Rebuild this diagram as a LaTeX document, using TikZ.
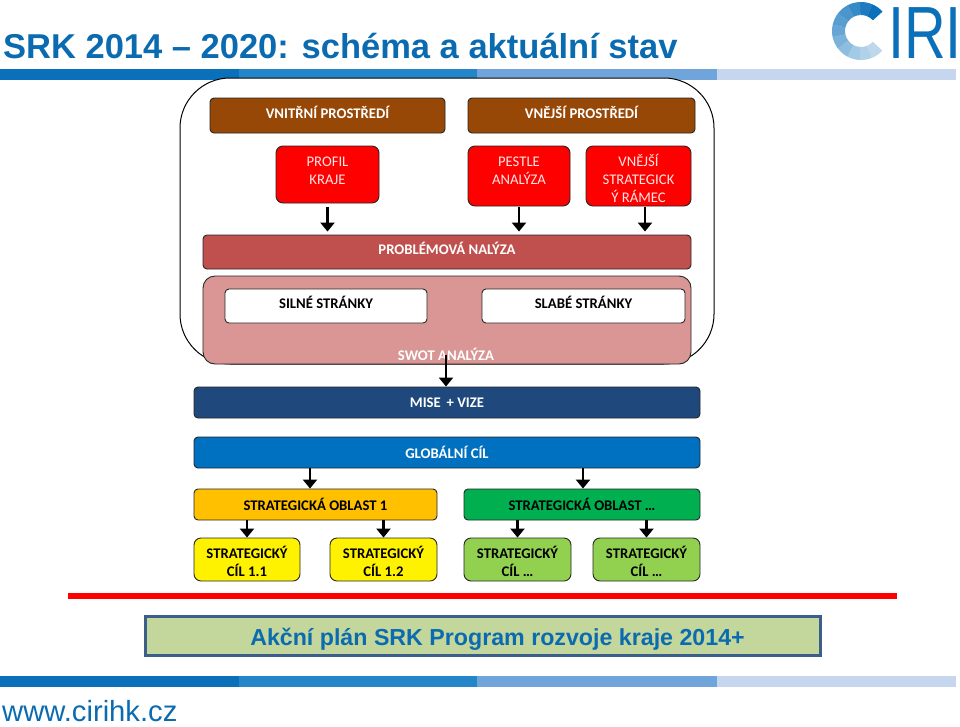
\documentclass[tikz,border=0pt]{standalone}
\usepackage{fontspec}
\setmainfont{Carlito}
\newfontfamily\headfont{Liberation Sans}
\usetikzlibrary{arrows.meta,positioning,calc}
\definecolor{BarOne}{HTML}{0A70BA}
\definecolor{BarTwo}{HTML}{2486C8}
\definecolor{BarThree}{HTML}{6FA5DA}
\definecolor{BarFour}{HTML}{C6D6EE}
\definecolor{TitleBlue}{HTML}{0B6BB0}
\definecolor{BrownBox}{HTML}{974706}
\definecolor{ProblemBox}{HTML}{C0504D}
\definecolor{SwotBox}{HTML}{D99694}
\definecolor{MiseBox}{HTML}{1F497D}
\definecolor{GlobalBox}{HTML}{0070C0}
\definecolor{AreaYellow}{HTML}{FFC000}
\definecolor{AreaGreen}{HTML}{00B050}
\definecolor{GoalGreen}{HTML}{92D050}
\definecolor{PlanBack}{HTML}{C3D69B}
\definecolor{PlanBorder}{HTML}{3B5F8A}
\tikzset{>={Triangle[width=14pt,length=9pt]},
 box/.style={draw=black!85,line width=.9pt,rounded corners=4pt,inner sep=0pt,align=center},
 lightbox/.style={box,text=white,font=\fontsize{14.7}{18}\selectfont\bfseries},
 darkbox/.style={box,text=black,font=\fontsize{14.7}{18}\selectfont\bfseries},
 redbox/.style={box,fill=red,rounded corners=7pt},
 goalbox/.style={box,rounded corners=7pt},
 redtext/.style={inner sep=0pt,align=center,text=white!90!red,font=\fontsize{14.7}{18}\selectfont},
 goaltext/.style={inner sep=0pt,align=center,text=black,font=\fontsize{14.7}{18}\selectfont\bfseries},
 flow/.style={->,line width=2.8pt,draw=black,shorten <=4pt,shorten >=3pt},
 flowtight/.style={->,line width=2.8pt,draw=black}}
% box given by its left, top, right, bottom edges in pixels
\newcommand{\boxat}[7][]{\node[#1,minimum width=#5pt-#3pt,minimum height=#6pt-#4pt] (#2) at ({(#3+#5)/2},{(#4+#6)/2}) {#7};}
\newcommand{\lowered}[2]{\raisebox{-#1pt}[0pt][0pt]{#2}}
\begin{document}
\begin{tikzpicture}[x=1pt,y=-1pt]
\useasboundingbox (0,0) rectangle (960,726);
\node[anchor=base west,inner sep=0pt,text=TitleBlue,font=\headfont\bfseries\fontsize{34.5}{34}\selectfont] (title) at (3,58) {SRK 2014 – 2020: schéma a aktuální stav};
% logo
\foreach \i/\shade in {0/100,1/92,2/82,3/74,4/68,5/62,6/54,7/46,8/38,9/32,10/27}
 \fill[BarOne!\shade!white] ({861+29*cos(42+\i*25)},{31-29*sin(42+\i*25)}) arc[start angle=-42-\i*25,end angle=-67.5-\i*25,radius=29]
  -- ({861+16*cos(67.5+\i*25)},{31-16*sin(67.5+\i*25)}) arc[start angle=-67.5-\i*25,end angle=-42-\i*25,radius=16] -- cycle;
\node[anchor=base west,inner sep=0pt,text=BarOne,xscale=.78,font=\headfont\fontsize{74}{74}\selectfont] (logotext) at (888,58) {IRI};
% bars
\foreach \y in {69,676} {
 \fill[BarOne] (0,\y) rectangle (239,\y+11);
 \fill[BarTwo] (239,\y) rectangle (477,\y+11);
 \fill[BarThree] (477,\y) rectangle (717,\y+11);
 \fill[BarFour] (717,\y) rectangle (956,\y+11);
}
% frame
\boxat[draw=black,line width=1pt,rounded corners=50pt,fill=white]{frame}{180}{78}{714}{364}{}
\boxat[lightbox,fill=BrownBox]{inner}{210}{98}{445}{133}{\lowered{3.2}{VNITŘNÍ PROSTŘEDÍ}}
\boxat[lightbox,fill=BrownBox]{outer}{468}{98}{695}{133}{\lowered{3.2}{VNĚJŠÍ PROSTŘEDÍ}}
\boxat[redbox]{profile}{276}{146}{379}{203}{}
\boxat[redbox]{pestle}{468}{146}{570}{206}{}
\boxat[redbox]{frameout}{586}{146}{691}{206}{}
\node[redtext,below=8pt of profile.north] (profiletext) {\strut PROFIL\\KRAJE};
\node[redtext,below=8pt of pestle.north] (pestletext) {\strut PESTLE\\ANALÝZA};
\node[redtext,below=8pt of frameout.north] (frameouttext) {\strut VNĚJŠÍ\\STRATEGICK\\Ý RÁMEC};
\boxat[lightbox,fill=ProblemBox]{problem}{203}{235}{691}{269}{\lowered{2.7}{PROBLÉMOVÁ NALÝZA}}
\boxat[box,fill=SwotBox,rounded corners=12pt]{swot}{203}{276}{691}{364}{}
\node[text=white,inner sep=0pt,font=\fontsize{14.7}{16}\selectfont\bfseries] (swotlabel) at (446,354.5) {SWOT ANALÝZA};
\boxat[darkbox,fill=white]{strong}{225}{289}{427}{323}{\lowered{2.7}{SILNÉ STRÁNKY}}
\boxat[darkbox,fill=white]{weak}{482}{289}{685}{323}{\lowered{2.7}{SLABÉ STRÁNKY}}
\boxat[lightbox,fill=MiseBox]{mission}{194}{387}{700}{418}{MISE\, + VIZE}
\boxat[lightbox,fill=GlobalBox]{globalgoal}{194}{437}{700}{468}{GLOBÁLNÍ CÍL}
\boxat[darkbox,fill=AreaYellow]{areaone}{194}{489}{437}{520}{STRATEGICKÁ OBLAST 1}
\boxat[darkbox,fill=AreaGreen]{areatwo}{464}{489}{700}{520}{STRATEGICKÁ OBLAST …}
\boxat[goalbox,fill=yellow]{goalA}{194}{538}{300}{581}{}
\boxat[goalbox,fill=yellow]{goalB}{330}{538}{437}{581}{}
\boxat[goalbox,fill=GoalGreen]{goalC}{464}{538}{571}{581}{}
\boxat[goalbox,fill=GoalGreen]{goalD}{593}{538}{700}{581}{}
\node[goaltext,below=8pt of goalA.north] (goalAtext) {\strut STRATEGICKÝ\\CÍL 1.1};
\node[goaltext,below=8pt of goalB.north] (goalBtext) {\strut STRATEGICKÝ\\CÍL 1.2};
\node[goaltext,below=8pt of goalC.north] (goalCtext) {\strut STRATEGICKÝ\\CÍL …};
\node[goaltext,below=8pt of goalD.north] (goalDtext) {\strut STRATEGICKÝ\\CÍL …};
% arrows
\draw[flow] (profile.south) -- (profile.south |- problem.north);
\draw[flow,shorten <=1pt] (pestle.south -| 519,0) -- (519,0 |- problem.north);
\draw[flow,shorten <=1pt] (frameout.south -| 645,0) -- (645,0 |- problem.north);
\draw[flowtight] (swotlabel.center) -- (swotlabel.center |- mission.north);
\draw[flowtight] (globalgoal.south -| 310,0) -- (310,0 |- areaone.north);
\draw[flowtight] (globalgoal.south -| 583,0) -- (583,0 |- areatwo.north);
\draw[flowtight] (goalA.north |- areaone.south) -- (goalA.north);
\draw[flowtight] (goalB.north |- areaone.south) -- (goalB.north);
\draw[flowtight] (goalC.north |- areatwo.south) -- (goalC.north);
\draw[flowtight] (goalD.north |- areatwo.south) -- (goalD.north);
% lower part
\fill[red] (68,593) rectangle (897,599);
\boxat[draw=PlanBorder,line width=3pt,fill=PlanBack,inner sep=0pt,text=TitleBlue,font=\headfont\bfseries\fontsize{23.2}{24}\selectfont]{plan}{145}{616}{820}{655}{\hspace*{30pt}\lowered{9.5}{Akční plán SRK Program rozvoje kraje 2014+}}
\node[anchor=base west,inner sep=0pt,text=TitleBlue,font=\headfont\fontsize{29.2}{29}\selectfont] (web) at (2,721) {www.cirihk.cz};
\end{tikzpicture}
\end{document}
